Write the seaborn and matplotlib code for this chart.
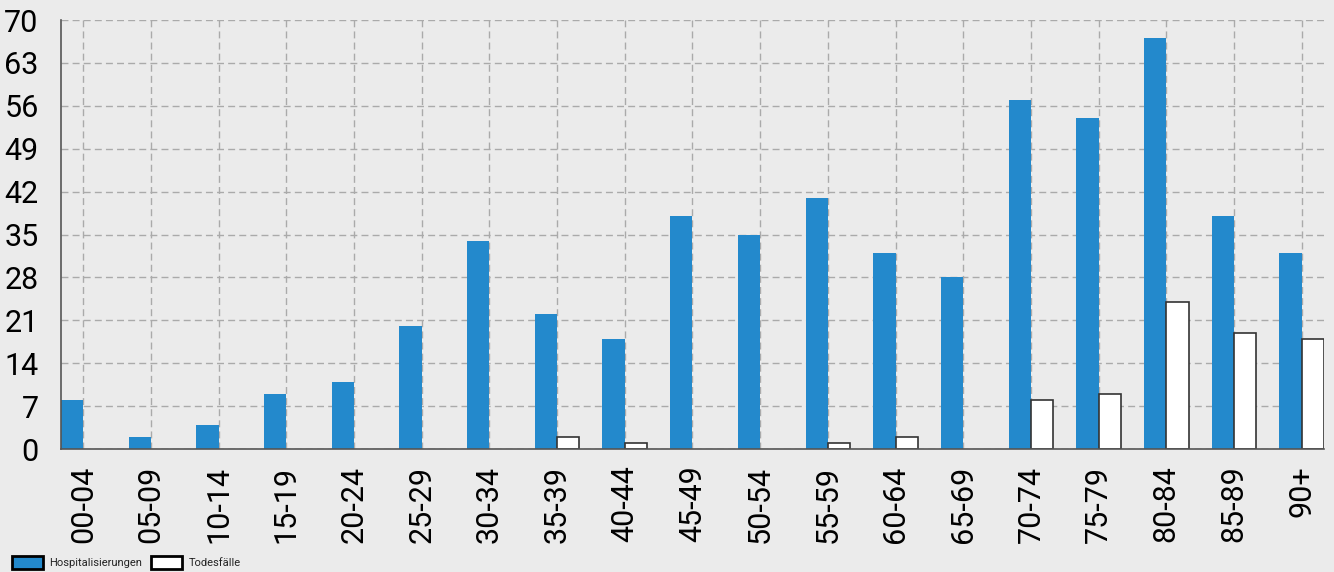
import pandas as pd
import matplotlib
matplotlib.use('Agg')
import matplotlib.pyplot as plt
import seaborn as sns
from matplotlib.patches import Patch

age_groups = ['00-04', '05-09', '10-14', '15-19', '20-24', '25-29', '30-34', '35-39', '40-44',
              '45-49', '50-54', '55-59', '60-64', '65-69', '70-74', '75-79', '80-84', '85-89', '90+']
hospitalisierungen = [8, 2, 4, 9, 11, 20, 34, 22, 18, 38, 35, 41, 32, 28, 57, 54, 67, 38, 32]
todesfaelle = [0, 0, 0, 0, 0, 0, 0, 2, 1, 0, 0, 1, 2, 0, 8, 9, 24, 19, 18]
y_ticks = [0, 7, 14, 21, 28, 35, 42, 49, 56, 63, 70]

df = pd.DataFrame({
    'Altersgruppe': age_groups * 2,
    'Anzahl': hospitalisierungen + todesfaelle,
    'Art': ['Hospitalisierungen'] * len(age_groups) + ['Todesfälle'] * len(age_groups),
})

sns.set_style('white')
plt.rcParams['font.family'] = ['Roboto', 'DejaVu Sans']

bg = '#ebebeb'
blue = '#2389cc'

fig = plt.figure(figsize=(13.34, 5.72), dpi=100, facecolor=bg)
ax = fig.add_axes([0.0457, 0.215, 0.9468, 0.75])
ax.set_facecolor(bg)

sns.barplot(data=df, x='Altersgruppe', y='Anzahl', hue='Art',
            palette={'Hospitalisierungen': blue, 'Todesfälle': 'white'},
            width=0.66, ax=ax, legend=False, saturation=1)

# white bars get a dark outline, empty ones stay invisible
n = len(age_groups)
for i, p in enumerate(ax.patches):
    if i >= n and p.get_height() > 0:
        p.set_edgecolor('#333333')
        p.set_linewidth(1.2)
    else:
        p.set_edgecolor('none')
        p.set_linewidth(0)

ax.set_xlim(-0.33, n - 1 + 0.33)
ax.set_ylim(0, 70)
ax.set_yticks(y_ticks)
ax.set_xlabel('')
ax.set_ylabel('')
ax.grid(True, color='#aaaaaa', linestyle=(0, (5, 3)), linewidth=1)
ax.set_axisbelow(True)

for s in ['top', 'right']:
    ax.spines[s].set_visible(False)
for s in ['left', 'bottom']:
    ax.spines[s].set_color('#555555')
    ax.spines[s].set_linewidth(1.2)

ax.tick_params(axis='y', labelsize=22, length=3, color='#555555', labelcolor='black', pad=13)
ax.tick_params(axis='x', labelsize=22, length=3, color='#555555', labelcolor='black',
               rotation=90, pad=9)

handles = [Patch(facecolor=blue, edgecolor='black', linewidth=2, label='Hospitalisierungen'),
           Patch(facecolor='white', edgecolor='black', linewidth=2, label='Todesfälle')]
fig.legend(handles=handles, loc='lower left', bbox_to_anchor=(0.003, -0.008), ncol=2,
           frameon=False, fontsize=8, handlelength=2.8, handleheight=1.4,
           columnspacing=0.8, handletextpad=0.6, borderpad=0.2, labelcolor='#222222')

fig.savefig('out.png', dpi=100, facecolor=bg)
